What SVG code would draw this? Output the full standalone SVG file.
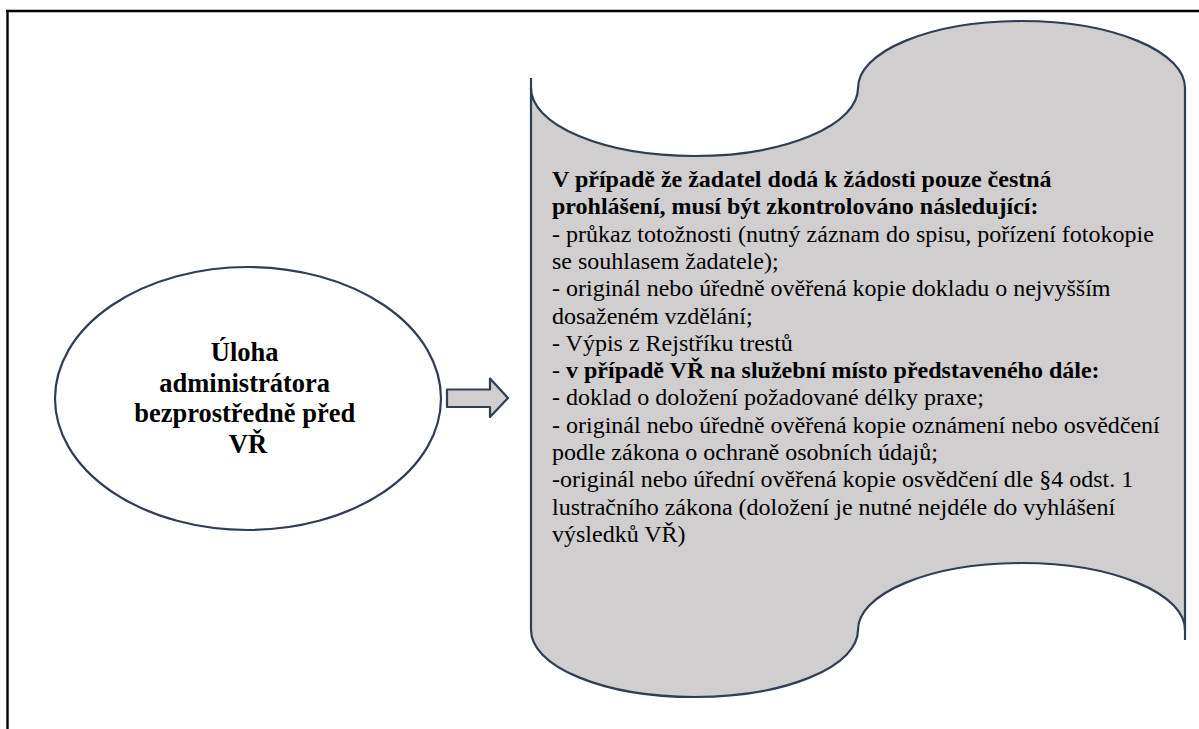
<svg xmlns="http://www.w3.org/2000/svg" width="1199" height="729" viewBox="0 0 1199 729">
  <style>
    .edge { fill: none; stroke: #2f3e52; stroke-width: 2.2; }
    .shape { fill: #d0cece; stroke: #2f3e52; stroke-width: 2.2; stroke-linejoin: round; }
    .oval { fill: #ffffff; stroke: #2f3e52; stroke-width: 2.2; }
    .title { font-family: "Liberation Serif", "Times New Roman", serif; font-size: 26.5px; font-weight: bold; fill: #000; text-anchor: middle; }
    .body { font-family: "Liberation Serif", "Times New Roman", serif; font-size: 24px; fill: #000; }
    .b { font-weight: bold; }
  </style>

  <!-- page frame (top and left rules) -->
  <g id="frame">
    <line x1="6" y1="11" x2="1199" y2="11" stroke="#000" stroke-width="2.4"/>
    <line x1="7.5" y1="10" x2="7.5" y2="729" stroke="#000" stroke-width="2.4"/>
  </g>

  <!-- task oval -->
  <g id="task">
    <ellipse class="oval" cx="248" cy="398.5" rx="193" ry="131.5"/>
    <text class="title" x="248">
      <tspan x="248" y="361">Úloha</tspan>
      <tspan x="248" y="391.5">administrátora</tspan>
      <tspan x="248" y="422">bezprostředně před</tspan>
      <tspan x="248" y="452.5">VŘ</tspan>
    </text>
  </g>

  <!-- block arrow between oval and scroll -->
  <g id="connectors">
    <path class="shape" d="M447,389.5 L490,389.5 L490,378.5 L508,398 L490,417 L490,407 L447,407 Z"/>
  </g>

  <!-- checklist scroll -->
  <g id="checklist">
    <path class="shape" d="M531,88 A163.5,68 0 0 0 858,88 A163.5,67 0 0 1 1185,88 L1185,630 A163.5,67 0 0 0 858,630 A163.5,67 0 0 1 531,630 Z"/>
    <line class="edge" x1="531" y1="78" x2="531" y2="90"/>
    <line class="edge" x1="1185" y1="628" x2="1185" y2="640"/>
    <text class="body">
      <tspan x="552" y="187" class="b">V případě že žadatel dodá k žádosti pouze čestná</tspan>
      <tspan x="552" y="214.3" class="b">prohlášení, musí být zkontrolováno následující:</tspan>
      <tspan x="552" y="241.6">- průkaz totožnosti (nutný záznam do spisu, pořízení fotokopie</tspan>
      <tspan x="552" y="268.9">se souhlasem žadatele);</tspan>
      <tspan x="552" y="296.2">- originál nebo úředně ověřená kopie dokladu o nejvyšším</tspan>
      <tspan x="552" y="323.5">dosaženém vzdělání;</tspan>
      <tspan x="552" y="350.8">- Výpis z Rejstříku trestů</tspan>
      <tspan x="552" y="378.1">- <tspan class="b">v případě VŘ na služební místo představeného dále:</tspan></tspan>
      <tspan x="552" y="405.4">- doklad o doložení požadované délky praxe;</tspan>
      <tspan x="552" y="432.7">- originál nebo úředně ověřená kopie oznámení nebo osvědčení</tspan>
      <tspan x="552" y="460">podle zákona o ochraně osobních údajů;</tspan>
      <tspan x="552" y="487.3">-originál nebo úřední ověřená kopie osvědčení dle §4 odst. 1</tspan>
      <tspan x="552" y="514.6">lustračního zákona (doložení je nutné nejdéle do vyhlášení</tspan>
      <tspan x="552" y="541.9">výsledků VŘ)</tspan>
    </text>
  </g>
</svg>
